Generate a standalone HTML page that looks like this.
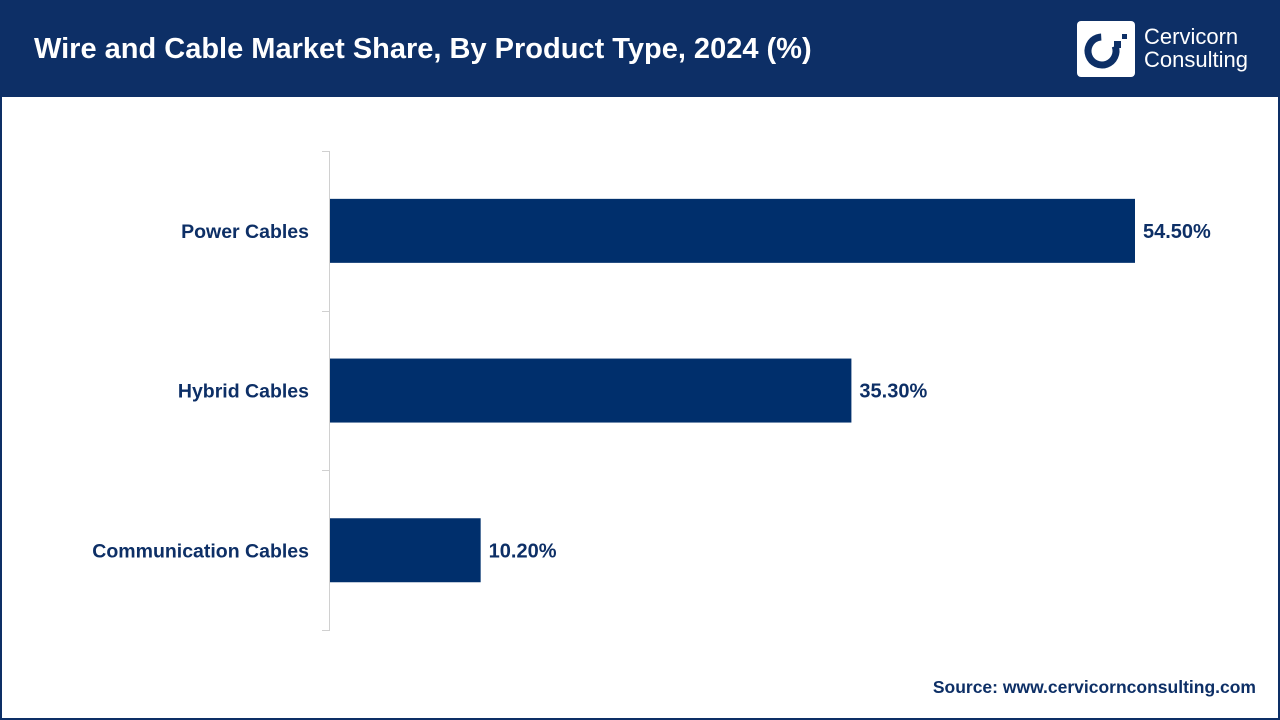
<!DOCTYPE html>
<html><head><meta charset="utf-8"><style>
body{margin:0;width:1280px;height:720px;overflow:hidden;background:#fff;font-family:"Liberation Sans",sans-serif}
#frame{position:absolute;left:0;top:0;width:1276px;height:716px;border:2px solid #0d2f66;}
#header{position:absolute;left:0;top:0;width:1280px;height:97px;background:#0d2f66}
#title{position:absolute;left:34px;top:33px;color:#fff;font-weight:bold;font-size:29px}
#logo-box{position:absolute;left:1077px;top:21px;width:58px;height:56px;background:#fff;border-radius:4px}
#logo-text{position:absolute;left:1144px;top:25px;color:#fff;font-size:22px;line-height:23px}
#source{position:absolute;right:24px;top:677px;color:#0d2f66;font-weight:bold;font-size:17.5px}
</style></head><body>
<div id="frame"></div>
<div id="header"></div>
<div id="title">Wire and Cable Market Share, By Product Type, 2024 (%)</div>
<div id="logo-box">
<svg width="58" height="56"><circle cx="25" cy="30" r="14" fill="none" stroke="#0d2f66" stroke-width="7" stroke-dasharray="70 20" transform="rotate(-20 25 30)"/><rect x="37" y="20" width="7" height="7" fill="#0d2f66"/><rect x="45" y="13" width="5" height="5" fill="#0d2f66"/></svg>
</div>
<div id="logo-text">Cervicorn<br>Consulting</div>
<svg id="chart" width="1280" height="720" style="position:absolute;left:0;top:0"></svg>
<div id="source">Source: www.cervicornconsulting.com</div>
<script>
const categories=["Power Cables","Hybrid Cables","Communication Cables"];
const values=[54.5,35.3,10.2];
const valueLabels=["54.50%","35.30%","10.20%"];
const svg=document.getElementById('chart');
const NS='http://www.w3.org/2000/svg';
const x0=330, pxPerUnit=805/54.5, top0=151, band=159.7, barH=64;
const xs=v=>x0+v*pxPerUnit;
function mk(t,a){const e=document.createElementNS(NS,t);for(const k in a)e.setAttribute(k,a[k]);svg.appendChild(e);return e;}
const ax=mk('line',{x1:329.5,x2:329.5,y1:top0,y2:top0+band*categories.length,stroke:'#d0d0d0','stroke-width':1});


for(let i=0;i<=categories.length;i++){
 const y=Math.round(top0+band*i)+0.5;
 const t=mk('line',{x1:322,x2:330,y1:y,y2:y,stroke:'#d0d0d0','stroke-width':1});
 
 
}
categories.forEach((c,i)=>{
 const cy=top0+band*(i+0.5);
 const r=mk('rect',{x:x0,y:cy-barH/2,width:xs(values[i])-x0,height:barH,fill:'#002f6c'});
 
 
 const l=mk('text',{x:309,y:cy+7,'text-anchor':'end',fill:'#0d2f66','font-size':19.5,'font-weight':'bold','font-family':'Liberation Sans, sans-serif'});
 l.textContent=c;
 
 
 const v=mk('text',{x:xs(values[i])+8,y:cy+7,fill:'#0d2f66','font-size':20,'font-weight':'bold','font-family':'Liberation Sans, sans-serif'});
 v.textContent=valueLabels[i];
 
 
});
</script>
</body></html>
